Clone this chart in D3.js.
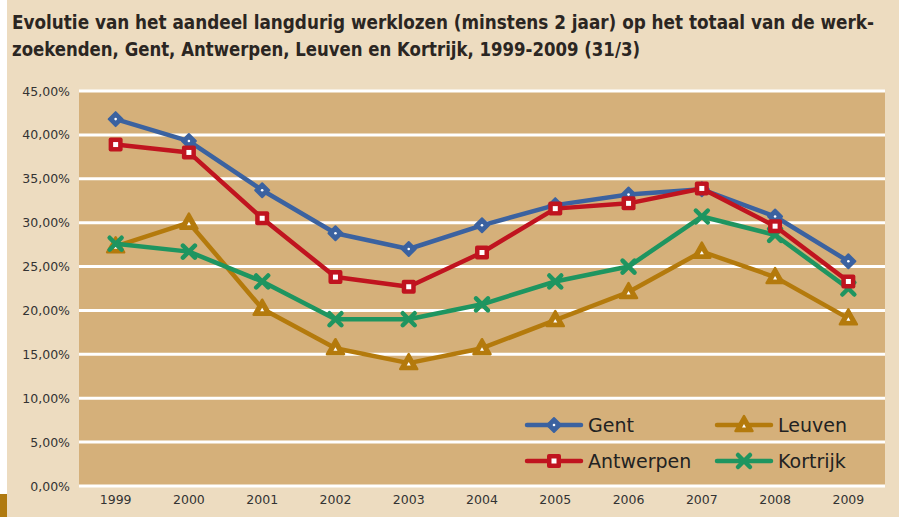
<!DOCTYPE html>
<html>
<head>
<meta charset="utf-8">
<script src="https://d3js.org/d3.v7.min.js"></script>
<style>
  body { margin: 0; background: #fff; }
  svg { display: block; }
</style>
</head>
<body>
<svg id="chart" width="899" height="517"></svg>
<script>
  // data
  const years = ["1999","2000","2001","2002","2003","2004","2005","2006","2007","2008","2009"]
  const gent      = [41.8, 39.3, 33.7, 28.8, 27.0, 29.7, 32.0, 33.2, 33.8, 30.7, 25.6]
  const antwerpen = [38.9, 38.0, 30.5, 23.8, 22.7, 26.6, 31.6, 32.2, 33.9, 29.6, 23.3]
  const leuven    = [27.3, 30.0, 20.2, 15.7, 14.0, 15.7, 18.9, 22.1, 26.7, 23.8, 19.1]
  const kortrijk  = [27.6, 26.7, 23.3, 19.0, 19.0, 20.7, 23.3, 25.0, 30.7, 28.6, 22.5]
  const yTicks = [0, 5, 10, 15, 20, 25, 30, 35, 40, 45]
  const titleLines = [
    "Evolutie van het aandeel langdurig werklozen (minstens 2 jaar) op het totaal van de werk-",
    "zoekenden, Gent, Antwerpen, Leuven en Kortrijk, 1999-2009 (31/3)"
  ]

  const series = [
    { name: "Gent", values: gent, color: "#3b62a0", marker: "diamond" },
    { name: "Antwerpen", values: antwerpen, color: "#c0141f", marker: "square" },
    { name: "Leuven", values: leuven, color: "#b47a0c", marker: "triangle" },
    { name: "Kortrijk", values: kortrijk, color: "#1e9560", marker: "cross" }
  ]
  // draw order: back to front like the original
  const drawOrder = ["Leuven", "Kortrijk", "Gent", "Antwerpen"]

  const svg = d3.select("#chart")
  const plotLeft = 79, plotRight = 885, plotTop = 91, plotBottom = 486

  // page background
  svg.append("rect").attr("x", 0).attr("y", 0).attr("width", 899).attr("height", 517).attr("fill", "#eddcc0")
  svg.append("rect").attr("x", 0).attr("y", 0).attr("width", 7).attr("height", 517).attr("fill", "#ffffff")
  svg.append("rect").attr("x", 0).attr("y", 494).attr("width", 7).attr("height", 23).attr("fill", "#b07a10")

  // title
  svg.selectAll(".title").data(titleLines).enter().append("text")
    .attr("class", "title")
    .attr("x", 12)
    .attr("y", (d, i) => 29 + i * 27)
    .attr("style", "font-family:'DejaVu Sans';font-stretch:condensed;font-weight:bold;font-size:19px;fill:#2b2622")
    .attr("textLength", (d, i) => i == 0 ? 862 : 628)
    .attr("lengthAdjust", "spacingAndGlyphs")
    .text(d => d)

  const x = d3.scaleBand().domain(years).range([plotLeft, plotRight])
  const y = d3.scaleLinear().domain([0, 45]).range([plotBottom, plotTop])

  // plot area
  svg.append("rect").attr("x", plotLeft).attr("y", plotTop)
    .attr("width", plotRight - plotLeft).attr("height", plotBottom - plotTop).attr("fill", "#d5b07a")

  // gridlines
  svg.append("g").selectAll("line").data(yTicks).enter().append("line")
    .attr("x1", plotLeft).attr("x2", plotRight)
    .attr("y1", d => y(d)).attr("y2", d => y(d))
    .attr("stroke", "#ffffff").attr("stroke-width", 3)

  // y axis
  const fmt = d => d.toFixed(2).replace(".", ",") + "%"
  const yAxis = svg.append("g").attr("transform", `translate(${plotLeft},0)`)
    .call(d3.axisLeft(y).tickValues(yTicks).tickFormat(fmt).tickSize(0).tickPadding(9))
  yAxis.select(".domain").remove()
  yAxis.selectAll("text").attr("style", "font-family:'DejaVu Sans';font-size:12.5px;fill:#333")

  // x axis
  const xAxis = svg.append("g").attr("transform", `translate(0,${plotBottom})`)
    .call(d3.axisBottom(x).tickSize(0).tickPadding(9))
  xAxis.select(".domain").remove()
  xAxis.selectAll("text").attr("style", "font-family:'DejaVu Sans';font-size:12.5px;fill:#333")

  const cx = i => x(years[i]) + x.bandwidth() / 2

  function drawMarker(g, type, color) {
    if (type == "diamond") {
      g.append("path").attr("d", "M0,-7L7,0L0,7L-7,0Z").attr("fill", color).attr("stroke", color).attr("stroke-width", 2).attr("stroke-linejoin", "round")
      g.append("circle").attr("r", 1.3).attr("fill", "#fff")
    } else if (type == "square") {
      g.append("rect").attr("x", -7).attr("y", -7).attr("width", 14).attr("height", 14).attr("rx", 2).attr("fill", color)
      g.append("rect").attr("x", -2.5).attr("y", -2.5).attr("width", 5).attr("height", 5).attr("fill", "#fff")
    } else if (type == "triangle") {
      g.append("path").attr("d", "M0,-9L8.5,6L-8.5,6Z").attr("fill", color).attr("stroke", color).attr("stroke-width", 2.5).attr("stroke-linejoin", "round")
      g.append("path").attr("d", "M0,-1L2,2.5L-2,2.5Z").attr("fill", "#fff")
    } else {
      g.append("path").attr("d", "M-6,-6L6,6M6,-6L-6,6").attr("stroke", color).attr("stroke-width", 4.5).attr("stroke-linecap", "round")
    }
  }

  const line = d3.line().x((d, i) => cx(i)).y(d => y(d))

  drawOrder.forEach(name => {
    const s = series.find(d => d.name == name)
    svg.append("path").datum(s.values)
      .attr("d", line)
      .attr("fill", "none")
      .attr("stroke", s.color)
      .attr("stroke-width", 4.5)
      .attr("stroke-linejoin", "round")
    s.values.forEach((v, i) => {
      const g = svg.append("g").attr("transform", `translate(${cx(i)},${y(v)})`)
      drawMarker(g, s.marker, s.color)
    })
  })

  // legend
  const legendPos = [
    { name: "Gent", x: 527, y: 425 },
    { name: "Leuven", x: 717, y: 425 },
    { name: "Antwerpen", x: 527, y: 461 },
    { name: "Kortrijk", x: 717, y: 461 }
  ]
  legendPos.forEach(p => {
    const s = series.find(d => d.name == p.name)
    const g = svg.append("g").attr("transform", `translate(${p.x},${p.y})`)
    g.append("line").attr("x1", 0).attr("x2", 54).attr("y1", 0).attr("y2", 0)
      .attr("stroke", s.color).attr("stroke-width", 4.5).attr("stroke-linecap", "round")
    drawMarker(g.append("g").attr("transform", "translate(27,0)"), s.marker, s.color)
    g.append("text").attr("x", 61).attr("y", 7)
      .attr("style", "font-family:'DejaVu Sans';font-size:19px;fill:#222")
      .text(s.name)
  })
</script>
</body>
</html>
